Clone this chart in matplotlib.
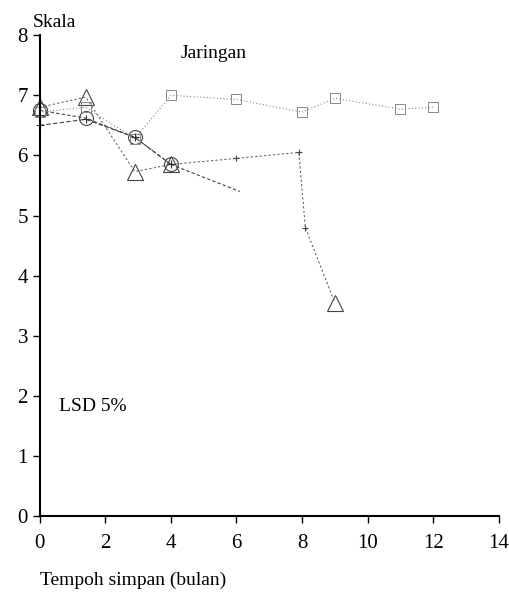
import matplotlib
matplotlib.use("Agg")
import matplotlib.pyplot as plt

# Data
tri_x = [0, 1.4, 2.9, 4, 6, 7.9, 8.1, 9]
tri_y = [6.8, 6.97, 5.73, 5.85, 5.95, 6.05, 4.8, 3.55]

circ_x = [0, 1.4, 2.9, 4, 6.1]
circ_y = [6.75, 6.62, 6.3, 5.85, 5.4]

sq_x = [0, 1.4, 2.9, 4, 6, 8, 9, 11, 12]
sq_y = [6.72, 6.8, 6.28, 7.0, 6.93, 6.72, 6.95, 6.77, 6.8]

plus_x = [0, 1.4, 2.9, 4]
plus_y = [6.5, 6.6, 6.3, 5.85]

x_ticks = [0, 2, 4, 6, 8, 10, 12, 14]
y_ticks = [0, 1, 2, 3, 4, 5, 6, 7, 8]

plt.rcParams['font.family'] = ['Liberation Serif', 'DejaVu Serif']

fig = plt.figure(figsize=(5.1, 5.96), dpi=100)
ax = fig.add_axes([0.078, 0.134, 0.9, 0.807])

ax.plot(tri_x, tri_y, color='#666666', lw=0.8, ls=(0, (2, 2)),
        marker='^', ms=11, mfc='none', mec='#444444', mew=0.8,
        markevery=[0, 1, 2, 3, 7], clip_on=False)
ax.plot(tri_x, tri_y, ls='none', marker='+', ms=5, mec='#444444', mew=0.8,
        markevery=[4, 5, 6], clip_on=False)
ax.plot(circ_x, circ_y, color='#444444', lw=0.8, ls=(0, (3, 2)),
        marker='o', ms=10, mfc='none', mec='#444444', mew=0.8,
        markevery=[0, 1, 2, 3], clip_on=False)
ax.plot(sq_x, sq_y, color='#888888', lw=0.8, ls=(0, (1, 2)),
        marker='s', ms=7, mfc='none', mec='#888888', mew=0.7, clip_on=False)
ax.plot(plus_x, plus_y, color='#444444', lw=0.8, ls=(0, (4, 2)),
        marker='+', ms=6, mec='#333333', mew=0.8, clip_on=False)

ax.set_xlim(0, 14)
ax.set_ylim(0, 8)
ax.set_xticks(x_ticks)
ax.set_yticks(y_ticks)
ax.tick_params(direction='out', length=5, width=1, labelsize=15, colors='black')
ax.tick_params(axis='x', pad=8)
for s in ['top', 'right']:
    ax.spines[s].set_visible(False)
ax.spines['left'].set_linewidth(1.5)
ax.spines['bottom'].set_linewidth(1.5)

fig.text(0.065, 0.962, 'Skala', fontsize=14, ha='left', va='center')
ax.text(5.3, 7.7, 'Jaringan', fontsize=14, ha='center', va='center')
ax.text(0.6, 1.82, 'LSD 5%', fontsize=14, ha='left', va='center')
fig.text(0.078, 0.027, 'Tempoh simpan (bulan)', fontsize=14, ha='left', va='center')

fig.savefig('out.png', dpi=100)
